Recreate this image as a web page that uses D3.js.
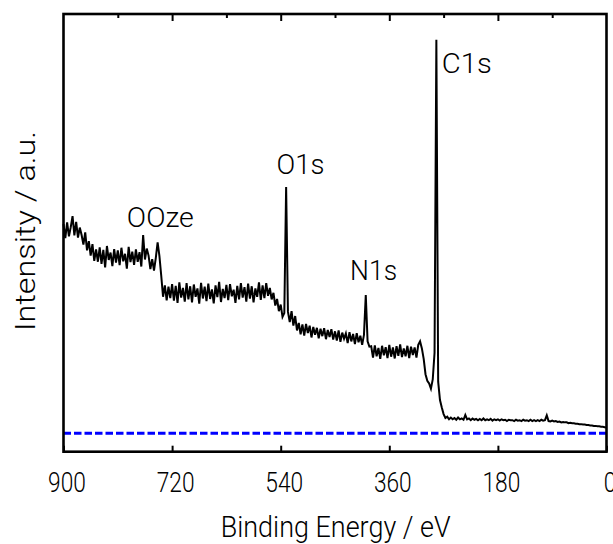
<!DOCTYPE html>
<html>
<head>
<meta charset="utf-8">
<script src="https://cdn.jsdelivr.net/npm/d3@7/dist/d3.min.js"></script>
<style>
  html, body { margin: 0; padding: 0; background: #fff; }
  svg { display: block; }
  text { font-family: Roboto, "Liberation Sans", Arial, sans-serif; font-weight: 300; fill: #000; }
</style>
</head>
<body>
<svg id="chart" width="613" height="544"></svg>
<script>
// ---- data ----
const energies = [
  900,897,894,891,888,885,882,879,876,873,
  870,867,864,861,858,855,852,849,846,843,
  840,837,834,831,828,825,822,819,816,813,
  810,807,804,801,798,795,792,789,786,783,
  780,777,774,771,768,765,762,759,756,753,
  750,747,744,741,738,735,732,729,726,723,
  720,717,714,711,708,705,702,699,696,693,
  690,687,684,681,678,675,672,669,666,663,
  660,657,654,651,648,645,642,639,636,633,
  630,627,624,621,618,615,612,609,606,603,
  600,597,594,591,588,585,582,579,576,573,
  570,567,564,561,558,555,552,549,546,543,
  540,537,534,531,528,525,522,519,516,513,
  510,507,504,501,498,495,492,489,486,483,
  480,477,474,471,468,465,462,459,456,453,
  450,447,444,441,438,435,432,429,426,423,
  420,417,414,411,408,405,402,399,396,393,
  390,387,384,381,378,375,372,369,366,363,
  360,357,354,351,348,345,342,339,336,333,
  330,327,324,321,318,315,312,309,306,303,
  300,297,294,291,288,285,282,279,276,273,
  270,267,264,261,258,255,252,249,246,243,
  240,237,234,231,228,225,222,219,216,213,
  210,207,204,201,198,195,192,189,186,183,
  180,177,174,171,168,165,162,159,156,153,
  150,147,144,141,138,135,132,129,126,123,
  120,117,114,111,108,105,102,99,96,93,
  90,87,84,81,78,75,72,69,66,63,
  60,57,54,51,48,45,42,39,36,33,
  30,27,24,21,18,15,12,9,6,3,
  0
];
const intensity = [
  47.8,44.6,48.2,45.0,47.1,49.6,45.2,48.3,44.7,47.0,
  45.3,43.1,45.9,41.8,43.9,40.6,43.2,39.4,42.0,39.2,
  42.5,38.7,41.9,37.9,42.8,39.6,41.3,38.2,42.1,39.0,
  41.8,38.4,42.4,39.3,41.0,37.6,42.6,39.1,41.5,38.5,
  42.0,39.2,41.4,38.1,45.3,39.7,42.2,40.6,37.5,39.8,
  37.2,40.1,43.6,40.5,36.0,31.2,33.8,30.4,33.5,30.9,
  34.1,30.3,33.7,29.8,34.5,31.0,33.2,30.1,34.3,30.6,
  33.6,29.9,34.0,31.2,33.1,29.6,34.4,30.8,33.5,30.2,
  34.2,30.7,32.9,29.7,33.8,31.1,34.6,30.0,33.0,30.9,
  33.9,30.4,34.1,31.3,32.8,29.8,33.7,30.6,34.3,31.0,
  33.4,30.1,34.2,30.8,33.6,29.9,33.1,31.2,34.5,30.5,
  33.8,30.9,34.3,31.4,33.2,30.6,32.1,29.2,30.7,27.9,
  29.4,26.6,27.5,56.3,27.8,25.4,27.9,24.6,26.8,23.5,
  25.2,22.6,24.9,22.3,25.0,22.9,24.6,21.9,24.3,22.5,
  24.1,21.7,23.9,22.2,24.0,21.5,23.6,22.0,23.8,21.4,
  23.3,21.2,23.5,20.9,23.0,21.6,22.8,20.6,23.1,21.0,
  22.7,20.4,22.9,20.8,22.3,20.2,22.5,31.6,21.0,19.8,
  19.9,17.3,20.1,17.6,19.5,17.0,20.0,17.8,19.7,17.2,
  20.2,17.5,19.6,17.1,19.9,17.7,20.3,17.4,19.4,17.6,
  20.0,17.2,19.8,17.9,19.6,17.3,20.2,21.0,19.4,17.0,
  13.5,12.0,11.4,10.2,12.3,18.4,89.9,11.8,7.6,5.9,
  4.4,3.5,3.8,3.2,3.6,3.2,3.5,3.1,3.6,3.2,
  3.4,3.1,4.2,3.2,3.4,3.0,3.4,3.1,3.3,3.0,
  3.3,3.0,3.4,3.0,3.2,3.0,3.3,2.9,3.2,3.0,
  3.2,2.9,3.2,3.0,3.1,2.8,3.1,3.0,3.0,2.8,
  3.1,2.9,3.0,2.8,3.1,2.9,3.0,2.8,3.1,2.8,
  3.0,2.8,3.0,2.8,3.1,2.9,3.0,4.1,2.8,2.7,
  2.9,2.7,2.8,2.6,2.7,2.5,2.6,2.5,2.5,2.3,
  2.4,2.3,2.3,2.2,2.2,2.1,2.1,2.0,2.0,1.9,
  1.9,1.8,1.8,1.7,1.7,1.6,1.6,1.5,1.5,1.4,
  1.3
];
const xTickLabels = [900, 720, 540, 360, 180, 0];
const xMajorTicks = [720, 540, 360, 180];
const xMinorTicks = [810, 630, 450, 270, 90];
const baselineValue = [0];
const peakNames = ["OOze", "O1s", "N1s", "C1s"];
const peakEnergy = [795, 547, 425, 273];     // label start energies
const peakLevel  = [47.2, 59.2, 35.0, 82.4]; // label baseline levels
const xDomain = [900, 0];
const yDomain = [-4.2, 95.8];

(function draw() {
  const svg = d3.select("#chart");
  const pL = 63.5, pR = 606.5, pT = 14, pB = 451.7;
  const x = d3.scaleLinear().domain(xDomain).range([pL, pR]);
  const y = d3.scaleLinear().domain(yDomain).range([pB, pT]);

  // baseline (blue dashed)
  svg.append("g").selectAll("line").data(baselineValue).join("line")
    .attr("x1", x(xDomain[0])).attr("x2", x(xDomain[1]))
    .attr("y1", d => y(d)).attr("y2", d => y(d))
    .attr("stroke", "#0000ff").attr("stroke-width", 3)
    .attr("stroke-dasharray", "7.5,3");

  // spectrum
  const pts = energies.map((e, i) => [e, intensity[i]]);
  svg.append("path").datum(pts)
    .attr("fill", "none").attr("stroke", "#000").attr("stroke-width", 2)
    .attr("d", d3.line().x(d => x(d[0])).y(d => y(d[1])));

  // bottom axis (inward ticks)
  const gx = svg.append("g").attr("transform", `translate(0,${pB})`)
    .call(d3.axisBottom(x).tickValues(xTickLabels).tickSize(-6).tickPadding(0).tickFormat(d3.format("d")));
  gx.select(".domain").remove();
  gx.attr("font-family", null).attr("font-size", null);
  gx.selectAll(".tick line").attr("stroke", "#000").attr("stroke-width", 2);
  gx.selectAll(".tick text")
    .attr("y", 40.3).attr("dy", 0).attr("dx", 3)
    .attr("font-size", 28)
    .attr("fill", "#000")
    .attr("textLength", d => String(d).length * 12.6)
    .attr("lengthAdjust", "spacingAndGlyphs");

  // top axis (major and minor inward ticks)
  const gtMaj = svg.append("g").attr("transform", `translate(0,${pT})`)
    .call(d3.axisTop(x).tickValues(xMajorTicks).tickSize(-7).tickFormat(""));
  gtMaj.select(".domain").remove();
  gtMaj.selectAll(".tick line").attr("stroke-width", 2);
  const gtMin = svg.append("g").attr("transform", `translate(0,${pT})`)
    .call(d3.axisTop(x).tickValues(xMinorTicks).tickSize(-4).tickFormat(""));
  gtMin.select(".domain").remove();
  gtMin.selectAll(".tick line").attr("stroke-width", 2);

  // frame
  svg.append("rect")
    .attr("x", pL).attr("y", pT)
    .attr("width", pR - pL).attr("height", pB - pT)
    .attr("fill", "none").attr("stroke", "#000").attr("stroke-width", 2.6);

  // peak labels
  const peakWidths = [67, 48, 47, 50];
  svg.append("g").selectAll("text").data(peakNames).join("text")
    .attr("x", (d, i) => x(peakEnergy[i]))
    .attr("y", (d, i) => y(peakLevel[i]))
    .attr("font-size", 27)
    .attr("textLength", (d, i) => peakWidths[i])
    .attr("lengthAdjust", "spacingAndGlyphs")
    .text(d => d);

  // axis titles
  svg.append("text")
    .attr("x", 335.7 - 115).attr("y", 537)
    .attr("font-size", 30)
    .attr("textLength", 230).attr("lengthAdjust", "spacingAndGlyphs")
    .text("Binding Energy / eV");

  svg.append("text")
    .attr("transform", `translate(35,${231 + 100}) rotate(-90)`)
    .attr("font-size", 27)
    .attr("textLength", 200).attr("lengthAdjust", "spacingAndGlyphs")
    .text("Intensity / a.u.");
})();
</script>
</body>
</html>
